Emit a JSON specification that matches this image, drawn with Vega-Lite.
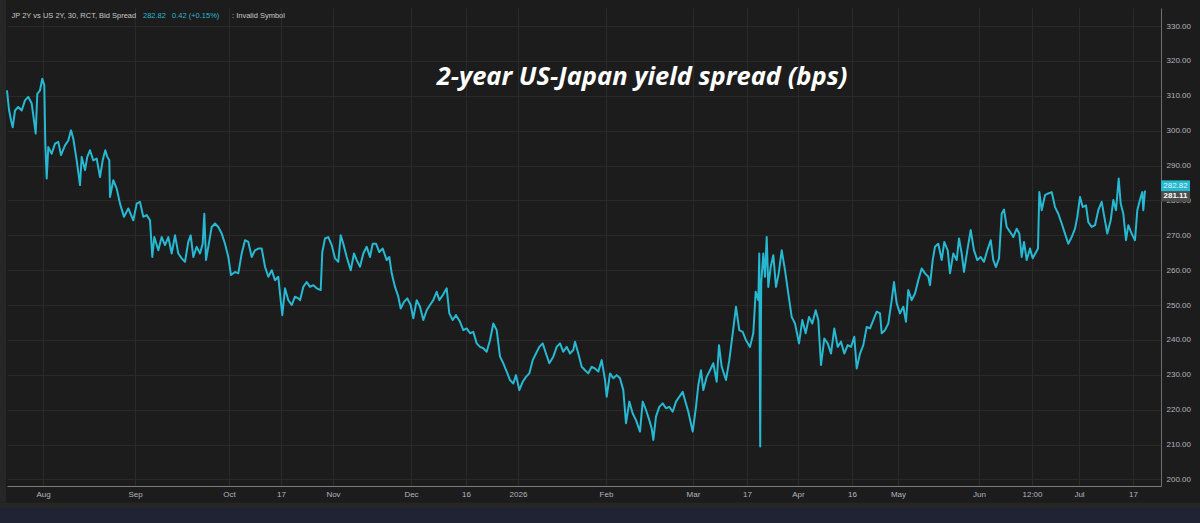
{
  "$schema": "https://vega.github.io/schema/vega-lite/v6.json",
  "width": 1154,
  "height": 478,
  "autosize": {"type": "none"},
  "padding": {"left": 7, "top": 8, "right": 39, "bottom": 37},
  "background": "#1c1c1c",
  "config": {"view": {"stroke": null, "fill": "#1c1c1c"}},
  "title": {
    "text": "2-year US-Japan yield spread (bps)",
    "anchor": "middle",
    "orient": "top",
    "offset": 0,
    "baseline": "middle",
    "dx": 58,
    "dy": 104,
    "font": "Open Sans",
    "fontSize": 25.5,
    "fontStyle": "italic",
    "fontWeight": "bold",
    "color": "#ffffff"
  },
  "datasets": {
    "series": [
      {"bar":0,"spread":311.6},{"bar":2,"spread":306},{"bar":4,"spread":303},{"bar":5.7,"spread":301},{"bar":8,"spread":305.8},{"bar":11.3,"spread":306.8},{"bar":14.7,"spread":305.8},{"bar":18,"spread":308.7},{"bar":21.3,"spread":309.7},{"bar":24.7,"spread":307.8},{"bar":26.3,"spread":304.4},{"bar":28.7,"spread":299.2},{"bar":30.3,"spread":310.6},{"bar":33,"spread":311.6},{"bar":35.3,"spread":314.9},{"bar":37.3,"spread":313},{"bar":38.3,"spread":296.3},{"bar":39.7,"spread":286.3},{"bar":41.3,"spread":295.3},{"bar":44.7,"spread":293.4},{"bar":48,"spread":296.3},{"bar":51.3,"spread":296.8},{"bar":54,"spread":293},{"bar":58,"spread":295.8},{"bar":61.3,"spread":297.2},{"bar":64,"spread":300.1},{"bar":66.3,"spread":297.7},{"bar":69.7,"spread":291.5},{"bar":73,"spread":284.4},{"bar":74.7,"spread":292.5},{"bar":78,"spread":288.7},{"bar":80.3,"spread":292.5},{"bar":83,"spread":294.4},{"bar":86.3,"spread":291.5},{"bar":89.7,"spread":292},{"bar":93,"spread":286.7},{"bar":95.7,"spread":291.5},{"bar":98.3,"spread":294.4},{"bar":100.3,"spread":292.5},{"bar":102.3,"spread":291.5},{"bar":103,"spread":281},{"bar":106.3,"spread":285.8},{"bar":109.7,"spread":283.4},{"bar":113,"spread":279.1},{"bar":117,"spread":275.3},{"bar":121.3,"spread":277.7},{"bar":126.3,"spread":274.3},{"bar":129.7,"spread":279.1},{"bar":133,"spread":279.6},{"bar":136.3,"spread":275.3},{"bar":139.7,"spread":275.8},{"bar":143,"spread":274.3},{"bar":145.3,"spread":263.8},{"bar":147.3,"spread":269.5},{"bar":151.3,"spread":265.7},{"bar":154.7,"spread":269.5},{"bar":158,"spread":267.2},{"bar":161.3,"spread":269.5},{"bar":164.7,"spread":264.8},{"bar":168,"spread":270},{"bar":171.3,"spread":264.8},{"bar":174.7,"spread":263.4},{"bar":178,"spread":262.4},{"bar":181.3,"spread":268.1},{"bar":183.7,"spread":270},{"bar":186.3,"spread":263.8},{"bar":189.7,"spread":266.7},{"bar":193,"spread":264.8},{"bar":195.7,"spread":267.6},{"bar":197.3,"spread":276.2},{"bar":199,"spread":262.9},{"bar":201.3,"spread":266.7},{"bar":204.7,"spread":272.4},{"bar":208,"spread":273.4},{"bar":211.3,"spread":272.4},{"bar":214.7,"spread":270.5},{"bar":218,"spread":267.6},{"bar":221.3,"spread":263.8},{"bar":224,"spread":258.6},{"bar":228,"spread":259.5},{"bar":231.3,"spread":259.1},{"bar":234.7,"spread":264.8},{"bar":238,"spread":268.6},{"bar":241.3,"spread":268.1},{"bar":244.7,"spread":263.8},{"bar":248,"spread":265.7},{"bar":251.3,"spread":266.2},{"bar":254.7,"spread":266.2},{"bar":258,"spread":261},{"bar":261.3,"spread":258.1},{"bar":264.7,"spread":260},{"bar":268,"spread":257.1},{"bar":271.3,"spread":258.1},{"bar":273,"spread":253.3},{"bar":275.3,"spread":247.1},{"bar":278,"spread":254.8},{"bar":281.3,"spread":251.4},{"bar":284.7,"spread":250},{"bar":288,"spread":252.4},{"bar":291.3,"spread":251.9},
      {"bar":293,"spread":251.4},{"bar":296.3,"spread":255.2},{"bar":299.7,"spread":256.6},{"bar":303,"spread":255.2},{"bar":306.3,"spread":255.7},{"bar":309.7,"spread":254.8},{"bar":313.7,"spread":254.3},{"bar":315.3,"spread":265.2},{"bar":318,"spread":269.1},{"bar":321.3,"spread":269.5},{"bar":324.7,"spread":267.2},{"bar":328,"spread":263.4},{"bar":331.3,"spread":262.4},{"bar":333.7,"spread":270},{"bar":336.3,"spread":267.6},{"bar":339.7,"spread":263.8},{"bar":343.7,"spread":260},{"bar":347,"spread":264.8},{"bar":349.7,"spread":262.9},{"bar":353,"spread":261},{"bar":356.3,"spread":264.8},{"bar":359.7,"spread":266.7},{"bar":363,"spread":263.8},{"bar":365.7,"spread":267.6},{"bar":369,"spread":267.6},{"bar":372.3,"spread":265.2},{"bar":375.7,"spread":266.2},{"bar":379.7,"spread":262.9},{"bar":382.3,"spread":263.8},{"bar":384.7,"spread":259.1},{"bar":388,"spread":255.2},{"bar":391.3,"spread":252.4},{"bar":393.7,"spread":249},{"bar":397,"spread":250.9},{"bar":400.3,"spread":251.9},{"bar":403.7,"spread":250},{"bar":406.3,"spread":246.2},{"bar":409.7,"spread":251.4},{"bar":413,"spread":249.5},{"bar":416.3,"spread":245.7},{"bar":419.7,"spread":248.5},{"bar":423,"spread":250},{"bar":426.3,"spread":251.4},{"bar":429.7,"spread":253.8},{"bar":432.3,"spread":251.4},{"bar":435.7,"spread":252.8},{"bar":439.7,"spread":254.8},{"bar":442.3,"spread":247.6},{"bar":445.7,"spread":245.7},{"bar":449,"spread":247.1},{"bar":453,"spread":245.2},{"bar":456.3,"spread":242.8},{"bar":459.7,"spread":243.3},{"bar":463,"spread":241.9},{"bar":466.3,"spread":242.3},{"bar":469.7,"spread":239},{"bar":473,"spread":238},{"bar":476.3,"spread":237.6},{"bar":479.7,"spread":236.6},{"bar":483,"spread":239.9},{"bar":486.3,"spread":244.7},{"bar":489.7,"spread":242.8},{"bar":493,"spread":235.2},{"bar":496.3,"spread":233.3},{"bar":499.7,"spread":230.9},{"bar":503,"spread":228.5},{"bar":506.3,"spread":227.5},{"bar":509,"spread":229.9},{"bar":512.3,"spread":225.6},{"bar":515.7,"spread":228},{"bar":519,"spread":229.4},{"bar":522.3,"spread":230.4},{"bar":525.7,"spread":234.2},{"bar":529,"spread":236.1},{"bar":532.3,"spread":238},{"bar":535.7,"spread":239},{"bar":539,"spread":236.1},{"bar":542.3,"spread":233.3},{"bar":546.3,"spread":235.2},{"bar":549.7,"spread":238},{"bar":553,"spread":239},{"bar":556.3,"spread":236.6},{"bar":559.7,"spread":238},{"bar":563,"spread":236.1},{"bar":566.3,"spread":237.1},{"bar":568,"spread":239.5},{"bar":571.3,"spread":236.1},{"bar":574.7,"spread":232.3},{"bar":578,"spread":231.3},{"bar":581.3,"spread":230.4},{"bar":584.7,"spread":232.3},{"bar":588,"spread":231.8},{"bar":591.3,"spread":230.9},{"bar":594.7,"spread":234.2},
      {"bar":598,"spread":228.5},{"bar":599.7,"spread":223.7},{"bar":603,"spread":230.4},{"bar":606.3,"spread":229},{"bar":609.7,"spread":229.9},{"bar":613,"spread":229},{"bar":616.3,"spread":225.6},{"bar":619,"spread":216.1},{"bar":622.3,"spread":222.3},{"bar":625.7,"spread":218.9},{"bar":629,"spread":217},{"bar":633,"spread":213.7},{"bar":635.7,"spread":222.3},{"bar":639,"spread":219.9},{"bar":642.3,"spread":217},{"bar":644.7,"spread":214.6},{"bar":646.3,"spread":211.3},{"bar":649,"spread":218},{"bar":652.3,"spread":220.8},{"bar":655.7,"spread":221.8},{"bar":659,"spread":220.4},{"bar":662.3,"spread":220.8},{"bar":665.7,"spread":219.4},{"bar":669,"spread":222.3},{"bar":672.3,"spread":223.7},{"bar":675.7,"spread":225.1},{"bar":678,"spread":222.7},{"bar":681.3,"spread":219.4},{"bar":685.7,"spread":213.7},{"bar":689,"spread":220.8},{"bar":691.3,"spread":227},{"bar":694,"spread":231.3},{"bar":696.3,"spread":225.6},{"bar":699.7,"spread":229.4},{"bar":703,"spread":231.3},{"bar":706.3,"spread":233.3},{"bar":709.7,"spread":228},{"bar":712,"spread":238.5},{"bar":714.7,"spread":232.3},{"bar":719,"spread":228.5},{"bar":722.3,"spread":234.2},{"bar":725.7,"spread":241.9},{"bar":729,"spread":249.5},{"bar":732.3,"spread":242.8},{"bar":735.7,"spread":242.3},{"bar":739,"spread":239.9},{"bar":743,"spread":238},{"bar":746.3,"spread":241.9},{"bar":748.7,"spread":253.8},{"bar":751.3,"spread":251.4},{"bar":752.3,"spread":264.8},{"bar":753.2,"spread":209.4},{"bar":754.2,"spread":256.2},{"bar":756.3,"spread":264.8},{"bar":758,"spread":258.1},{"bar":759.7,"spread":269.5},{"bar":761.3,"spread":255.2},{"bar":763.7,"spread":261},{"bar":766.3,"spread":264.3},{"bar":769,"spread":255.2},{"bar":771.7,"spread":259.1},{"bar":774.7,"spread":265.7},{"bar":778,"spread":260},{"bar":781.3,"spread":253.3},{"bar":784.7,"spread":246.6},{"bar":788,"spread":244.7},{"bar":792,"spread":239},{"bar":795.3,"spread":245.7},{"bar":798.7,"spread":241.9},{"bar":802,"spread":246.6},{"bar":805.3,"spread":244.7},{"bar":808.7,"spread":248.5},{"bar":811.3,"spread":245.7},{"bar":814,"spread":232.8},{"bar":817.3,"spread":240.4},{"bar":820.7,"spread":239},{"bar":824,"spread":236.1},{"bar":827.3,"spread":243.3},{"bar":830.7,"spread":238},{"bar":834,"spread":239.5},{"bar":837.3,"spread":236.1},{"bar":840.7,"spread":238.5},{"bar":844,"spread":238},{"bar":847.3,"spread":240.9},{"bar":849.7,"spread":231.8},{"bar":853,"spread":236.1},{"bar":856.3,"spread":238.5},{"bar":859.7,"spread":243.7},{"bar":863,"spread":243.3},{"bar":866.3,"spread":245.7},{"bar":869.7,"spread":248.1},{"bar":873,"spread":247.6},
      {"bar":874.7,"spread":241.9},{"bar":878,"spread":242.8},{"bar":881.3,"spread":244.7},{"bar":884.7,"spread":251.4},{"bar":887,"spread":256.6},{"bar":889.7,"spread":250.5},{"bar":893,"spread":247.6},{"bar":896.3,"spread":249.5},{"bar":899,"spread":245.2},{"bar":901.3,"spread":254.3},{"bar":904.7,"spread":251.4},{"bar":908,"spread":253.3},{"bar":911.3,"spread":257.1},{"bar":914.7,"spread":260.5},{"bar":918,"spread":259.1},{"bar":921.3,"spread":258.1},{"bar":923,"spread":255.7},{"bar":925.7,"spread":262.9},{"bar":928,"spread":266.7},{"bar":931.3,"spread":267.6},{"bar":934.7,"spread":262.9},{"bar":937.3,"spread":268.1},{"bar":940.7,"spread":265.7},{"bar":943,"spread":259.1},{"bar":946.3,"spread":264.8},{"bar":949.7,"spread":262.9},{"bar":952,"spread":269.1},{"bar":954.7,"spread":264.8},{"bar":957,"spread":259.5},{"bar":960.3,"spread":265.7},{"bar":963.7,"spread":271.5},{"bar":967,"spread":265.7},{"bar":970.3,"spread":262.9},{"bar":973.7,"spread":263.8},{"bar":977,"spread":262.4},{"bar":980.3,"spread":265.7},{"bar":983.7,"spread":268.6},{"bar":986.3,"spread":262.9},{"bar":989,"spread":260.9},{"bar":992,"spread":263.4},{"bar":994.7,"spread":276.2},{"bar":997,"spread":277.4},{"bar":999.7,"spread":272.4},{"bar":1003,"spread":271},{"bar":1006.3,"spread":269.5},{"bar":1009.7,"spread":271.9},{"bar":1012.3,"spread":270.5},{"bar":1014.7,"spread":263.8},{"bar":1017,"spread":268.1},{"bar":1019.7,"spread":262.9},{"bar":1023,"spread":266.2},{"bar":1025.7,"spread":263.4},{"bar":1028.3,"spread":264.8},{"bar":1031,"spread":266.2},{"bar":1032.3,"spread":282.4},{"bar":1034.7,"spread":277.2},{"bar":1038,"spread":281.5},{"bar":1041.3,"spread":282},{"bar":1044.7,"spread":282.4},{"bar":1048,"spread":278.1},{"bar":1051.3,"spread":276.2},{"bar":1054.7,"spread":273.4},{"bar":1058,"spread":270.5},{"bar":1061.3,"spread":267.6},{"bar":1064.7,"spread":269.5},{"bar":1068,"spread":271.9},{"bar":1070.3,"spread":275.3},{"bar":1073,"spread":281},{"bar":1075.7,"spread":278.1},{"bar":1079,"spread":278.6},{"bar":1081.3,"spread":273.8},{"bar":1084.7,"spread":272.4},{"bar":1088,"spread":272.9},{"bar":1091.3,"spread":277.2},{"bar":1094.7,"spread":279.6},{"bar":1097,"spread":275.8},{"bar":1100.3,"spread":270.5},{"bar":1103.7,"spread":274.3},{"bar":1106.3,"spread":280.1},{"bar":1109,"spread":277.2},{"bar":1111.7,"spread":286.3},{"bar":1113.7,"spread":279.1},{"bar":1116.3,"spread":276.2},{"bar":1119,"spread":268.6},{"bar":1121.3,"spread":272.9},{"bar":1124.7,"spread":270.5},{"bar":1128,"spread":268.6},{"bar":1130.3,"spread":277.2},{"bar":1133.7,"spread":281},{"bar":1135.3,"spread":282.4},{"bar":1136.3,"spread":277.2},{"bar":1138,"spread":282.82}
    ],
    "lastvals": [
      {"kind": "last", "value": 282.82, "label": "282.82"},
      {"kind": "prev", "value": 281.11, "label": "281.11"}
    ]
  },
  "layer": [
    {
      "data": {"name": "series"},
      "mark": {"type": "line", "color": "#27b8d2", "strokeWidth": 2, "strokeJoin": "round"},
      "encoding": {
        "x": {
          "field": "bar",
          "type": "quantitative",
          "scale": {"domain": [0, 1154], "nice": false, "zero": false},
          "axis": {
            "orient": "bottom",
            "title": null,
            "values": [36,128,222,274,326,404,459,511,599,686,740,791,845,891,972,1025,1072,1126],
            "tickCount": 40,
            "labelExpr": "['Aug','Sep','Oct','17','Nov','Dec','16','2026','Feb','Mar','17','Apr','16','May','Jun','12:00','Jul','17'][indexof([36,128,222,274,326,404,459,511,599,686,740,791,845,891,972,1025,1072,1126], datum.value)]",
            "tickSize": 0,
            "labelPadding": 4,
            "labelFont": "Liberation Sans",
            "labelFontSize": 8,
            "labelColor": "#b2b5be",
            "labelFlush": false,
            "labelOverlap": false,
            "domainColor": "#7d7d7d",
            "domainWidth": 1.2,
            "grid": true,
            "gridColor": "#2a2a2a",
            "gridWidth": 1
          }
        },
        "y": {
          "field": "spread",
          "type": "quantitative",
          "scale": {"domain": [198.1, 335.2], "nice": false, "zero": false},
          "axis": {
            "orient": "right",
            "title": null,
            "values": [200,210,220,230,240,250,260,270,280,290,300,310,320,330],
            "tickCount": 30,
            "format": ".2f",
            "tickSize": 0,
            "labelPadding": 5,
            "labelFont": "Liberation Sans",
            "labelFontSize": 8,
            "labelColor": "#b2b5be",
            "labelOverlap": false,
            "domainColor": "#6f6f6f",
            "domainWidth": 1,
            "grid": true,
            "gridColor": "#2a2a2a",
            "gridWidth": 1
          }
        }
      }
    },
    {
      "data": {"values": [{}]},
      "mark": {"type": "rect", "color": "#262626"},
      "encoding": {
        "x": {"datum": -8, "type": "quantitative"},
        "x2": {"datum": 1200},
        "y": {"datum": 193.3, "type": "quantitative"},
        "y2": {"datum": 191.8}
      }
    },
    {
      "data": {"values": [{}]},
      "mark": {"type": "rect", "color": "#1f2333"},
      "encoding": {
        "x": {"datum": -8, "type": "quantitative"},
        "x2": {"datum": 1200},
        "y": {"datum": 191.8, "type": "quantitative"},
        "y2": {"datum": 185}
      }
    },
    {
      "data": {"values": [{}]},
      "mark": {"type": "rect", "color": "#262626"},
      "encoding": {
        "x": {"datum": -8, "type": "quantitative"},
        "x2": {"datum": -1},
        "y": {"datum": 338, "type": "quantitative"},
        "y2": {"datum": 193.3}
      }
    },
    {
      "data": {"name": "lastvals"},
      "transform": [{"filter": "datum.kind == 'prev'"}],
      "mark": {"type": "point", "filled": true, "opacity": 1, "color": "#4d4d4d", "shape": "M-1,-0.37H1V0.37H-1Z", "size": 841, "strokeWidth": 0, "yOffset": -0.4},
      "encoding": {
        "x": {"datum": 1168.5, "type": "quantitative"},
        "y": {"field": "value", "type": "quantitative"}
      }
    },
    {
      "data": {"name": "lastvals"},
      "transform": [{"filter": "datum.kind == 'last'"}],
      "mark": {"type": "point", "filled": true, "opacity": 1, "color": "#27b8d2", "shape": "M-1,-0.37H1V0.37H-1Z", "size": 841, "strokeWidth": 0, "yOffset": -4.9},
      "encoding": {
        "x": {"datum": 1168.5, "type": "quantitative"},
        "y": {"field": "value", "type": "quantitative"}
      }
    },
    {
      "data": {"name": "lastvals"},
      "transform": [{"filter": "datum.kind == 'prev'"}],
      "mark": {"type": "text", "font": "Liberation Sans", "fontSize": 8, "fontWeight": "bold", "color": "#ffffff", "align": "center", "baseline": "middle", "yOffset": -0.4},
      "encoding": {
        "x": {"datum": 1168.5, "type": "quantitative"},
        "y": {"field": "value", "type": "quantitative"},
        "text": {"field": "label"}
      }
    },
    {
      "data": {"name": "lastvals"},
      "transform": [{"filter": "datum.kind == 'last'"}],
      "mark": {"type": "text", "font": "Liberation Sans", "fontSize": 8, "color": "#dff6fa", "align": "center", "baseline": "middle", "yOffset": -4.9},
      "encoding": {
        "x": {"datum": 1168.5, "type": "quantitative"},
        "y": {"field": "value", "type": "quantitative"},
        "text": {"field": "label"}
      }
    },
    {
      "data": {"values": [{}]},
      "mark": {"type": "text", "text": "JP 2Y vs US 2Y, 30, RCT, Bid Spread", "font": "Liberation Sans", "fontSize": 7.5, "color": "#c8c8c8", "align": "left", "baseline": "middle"},
      "encoding": {
        "x": {"datum": 4.5, "type": "quantitative"},
        "y": {"datum": 332.9, "type": "quantitative"}
      }
    },
    {
      "data": {"values": [{}]},
      "mark": {"type": "text", "text": "282.82", "font": "Liberation Sans", "fontSize": 7.5, "color": "#27b8d2", "align": "left", "baseline": "middle"},
      "encoding": {
        "x": {"datum": 136, "type": "quantitative"},
        "y": {"datum": 332.9, "type": "quantitative"}
      }
    },
    {
      "data": {"values": [{}]},
      "mark": {"type": "text", "text": "0.42 (+0.15%)", "font": "Liberation Sans", "fontSize": 7.5, "color": "#27b8d2", "align": "left", "baseline": "middle"},
      "encoding": {
        "x": {"datum": 165, "type": "quantitative"},
        "y": {"datum": 332.9, "type": "quantitative"}
      }
    },
    {
      "data": {"values": [{}]},
      "mark": {"type": "text", "text": ": Invalid Symbol", "font": "Liberation Sans", "fontSize": 7.5, "color": "#c8c8c8", "align": "left", "baseline": "middle"},
      "encoding": {
        "x": {"datum": 225, "type": "quantitative"},
        "y": {"datum": 332.9, "type": "quantitative"}
      }
    }
  ]
}
